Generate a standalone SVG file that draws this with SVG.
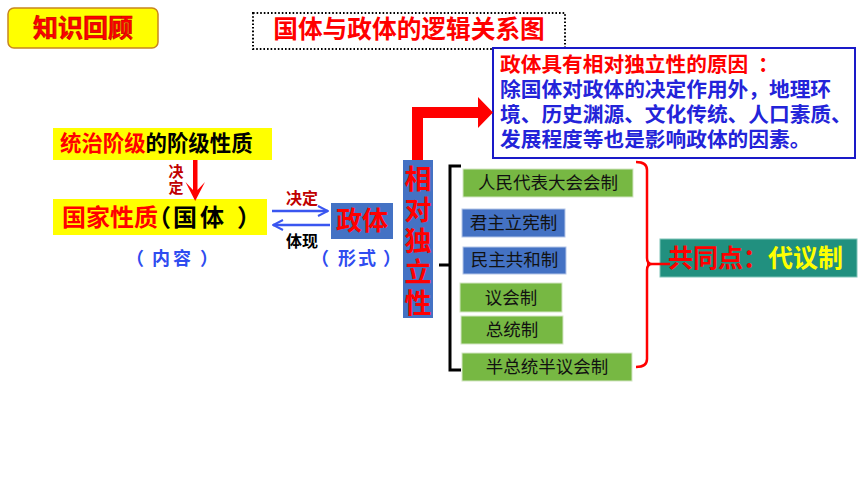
<svg xmlns="http://www.w3.org/2000/svg" width="860" height="484" viewBox="0 0 860 484">
<style>
text{font-family:"Noto Sans CJK SC","Noto Sans",sans-serif;}
.b{font-weight:700;}
.item{font-size:17.5px;fill:#111;text-anchor:middle;}
.green{fill:#77B843;stroke:#d4e6c4;stroke-width:1;}
.blue{fill:#4472C4;stroke:#b3c5e8;stroke-width:1;}
.red{fill:#FF0000;}
.dred{fill:#C00000;}
.ptxt{fill:#2F4CF0;font-size:18px;font-weight:700;}
.vert{writing-mode:vertical-rl;}
</style>
<defs>
<marker id="openArrow" viewBox="0 0 12 12" refX="11" refY="6" markerWidth="12" markerHeight="12" markerUnits="userSpaceOnUse" orient="auto">
<polyline points="1,1 11,6 1,11" fill="none" stroke="#3A56F0" stroke-width="2"/>
</marker>
</defs>
<rect width="860" height="484" fill="#FFFFFF"/>

<g id="review">
<rect x="8" y="8" width="150" height="40" rx="6" fill="#FFFF00" stroke="#C8861E" stroke-width="1.5"/>
<text x="83" y="37" class="b red" font-size="25" text-anchor="middle" stroke="#C00000" stroke-width="0.6">知识回顾</text>
</g>

<g id="title">
<rect x="253" y="13" width="312" height="36" fill="none" stroke="#000" stroke-width="2" stroke-dasharray="1.6 2"/>
<text x="409" y="38" class="b red" font-size="24.7" text-anchor="middle">国体与政体的逻辑关系图</text>
</g>

<g id="reason">
<rect x="493" y="48" width="362" height="110" fill="#FFFFFF" stroke="#1A1AC8" stroke-width="2"/>
<text x="500" y="72" class="b red" font-size="20.7">政体具有相对独立性的原因<tspan x="758">：</tspan></text>
<text class="b" font-size="20.7" fill="#2323D9">
<tspan x="500" y="97">除国体对政体的决定作用外，地理环</tspan>
<tspan x="500" y="122">境、历史渊源、文化传统、人口素质、</tspan>
<tspan x="500" y="147">发展程度等也是影响政体的因素。</tspan>
</text>
</g>

<g id="class-nature">
<rect x="53" y="128" width="219" height="32" fill="#FFFF00"/>
<text x="60" y="151" class="b" font-size="21.4"><tspan fill="#FF0000">统治阶级</tspan><tspan fill="#000">的阶级性质</tspan></text>
</g>

<g id="state-nature">
<rect x="53" y="199" width="214" height="36" fill="#FFFF00"/>
<text y="226" class="b" font-size="24"><tspan fill="#FF0000" x="62">国家性质</tspan><tspan fill="#000" x="147 173 200 237">（国体）</tspan></text>
</g>
<text y="265" x="126 152 173 200" class="ptxt">（内容）</text>

<g id="government">
<rect x="331" y="203" width="62" height="36" fill="#4472C4"/>
<text x="362" y="230" class="b red" font-size="26" text-anchor="middle">政体</text>
</g>
<text y="265" x="311 338 358 383" class="ptxt">（形式）</text>

<g id="independence">
<rect x="403" y="160" width="30" height="158" fill="#4472C4"/>
<text x="418" y="165" class="b red vert" font-size="27" letter-spacing="4">相对独立性</text>
</g>

<g id="npc">
<rect x="463" y="169" width="170" height="28" class="green"/>
<text x="548" y="189" class="item">人民代表大会会制</text>
</g>
<g id="constitutional-monarchy">
<rect x="462" y="209" width="103" height="28" class="blue"/>
<text x="513.5" y="229" class="item">君主立宪制</text>
</g>
<g id="democratic-republic">
<rect x="463" y="247" width="103" height="27" class="blue"/>
<text x="514.5" y="266" class="item">民主共和制</text>
</g>
<g id="parliamentary">
<rect x="460" y="283" width="102" height="29" class="green"/>
<text x="511" y="304" class="item">议会制</text>
</g>
<g id="presidential">
<rect x="461" y="316" width="102" height="28" class="green"/>
<text x="512" y="336" class="item">总统制</text>
</g>
<g id="semi-presidential">
<rect x="462" y="353" width="170" height="28" class="green"/>
<text x="547" y="373" class="item">半总统半议会制</text>
</g>

<g id="common">
<rect x="660" y="239" width="197" height="38" fill="#21907F" stroke="#7fc3b8" stroke-width="1"/>
<text x="668" y="267" class="b" font-size="25"><tspan fill="#FF0000">共同点：</tspan><tspan fill="#FFFF00">代议制</tspan></text>
</g>

<g id="connectors">
<polygon points="193,160 197.5,160 197.5,190 205,182 195.2,201 185.5,182 193,190" fill="#FF0000"/>
<text x="176" y="164" class="b dred vert" font-size="15" letter-spacing="1">决定</text>
<line x1="272" y1="211" x2="328" y2="211" stroke="#3A56F0" stroke-width="2.5" marker-end="url(#openArrow)"/>
<line x1="330" y1="225" x2="273" y2="225" stroke="#3A56F0" stroke-width="2.5" marker-end="url(#openArrow)"/>
<text x="302" y="204" class="b dred" font-size="16" text-anchor="middle">决定</text>
<text x="302" y="247" class="b" font-size="16" fill="#000" text-anchor="middle">体现</text>
<polygon points="412,160 423,160 423,118 478,118 478,128 493,112.5 478,97 478,107 412,107" fill="#FF0000"/>
<path d="M461,166 H450 V370 H461 M439,265 H450" fill="none" stroke="#000" stroke-width="3"/>
<path d="M636,162 Q647,162 647,170 V258 Q647,264 652,264 Q647,264 647,270 V359 Q647,367 636,367 M647,264 H670" fill="none" stroke="#FF0000" stroke-width="2.5"/>
</g>
</svg>
